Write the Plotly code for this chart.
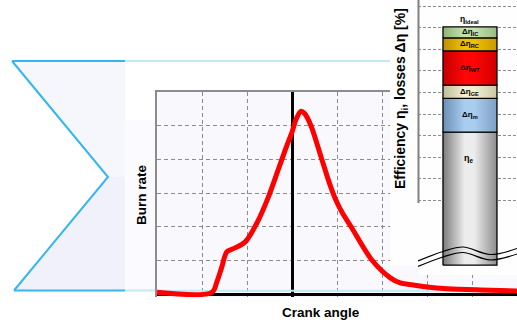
import plotly.graph_objects as go

# ---------------- data ----------------
# Burn-rate curve (crank angle in deg, burn rate in arbitrary units)
crank_angle = [-60, -35.6, -33.4, -31.2, -29.0, -26.3, -20.9, -15.6, -10.7, -6.2, -3.0,
               0, 2.0, 4.0, 5.6, 8.3, 13.2, 16.0, 18.1, 20.0, 22.3, 26.6, 35.5, 43.7, 48.1, 53.9, 60.1, 69, 83.7, 100]
burn_rate = [0.05, 0.05, 0.36, 0.80, 1.25, 1.34, 1.54, 2.11, 2.85, 3.68, 4.28,
             4.81, 5.22, 5.43, 5.36, 5.02, 4.01, 3.42, 3.02, 2.72, 2.42, 1.96, 1.01, 0.48, 0.33, 0.27, 0.21, 0.16, 0.12, 0.09]

# Efficiency loss chain (bottom to top), in %
segment_labels = ["η<sub>e</sub>", "Δη<sub>m</sub>", "Δη<sub>GE</sub>",
                  "Δη<sub>WT</sub>", "Δη<sub>RC</sub>", "Δη<sub>IC</sub>"]
segment_values = [30.8, 7.8, 3.1, 7.9, 3.0, 2.55]
ideal_label = "η<sub>Ideal</sub>"
eff_grid = [15, 20, 25, 30, 35, 40, 45, 50, 55, 60]

# axis-break wave (inset coordinates)
break_x = [-0.525, -0.273, -0.07, 0.203, 0.475]
break_upper = [0.97, 3.17, 4.21, 2.48, 3.87]
break_lower = [-0.30, 1.90, 2.94, 1.21, 2.60]

# ---------------- style ----------------
W, H = 517, 322
FONT = "Liberation Sans, Arial, sans-serif"
def px(x):
    return x / W
def py(y):
    return 1 - y / H

segment_colors = [
    ("#7c7c7c", "#ececec", "#8c8c8c"),
    ("#6b8fb5", "#a9cdef", "#7d9fc4"),
    ("#bdbb98", "#f2f0d2", "#c9c7a4"),
    ("#c40000", "#ff0505", "#d00000"),
    ("#bf9000", "#f0c000", "#c89a00"),
    ("#90b478", "#c5e2ae", "#98bb80"),
]
half_w = 0.2727
GRID = "#8c8c8c"
BLUE = "#35b6ee"
LIGHTBLUE = "#c2e9fa"

fig = go.Figure()

# light blue baseline inside main plot
fig.add_trace(go.Scatter(x=[crank_angle[0], crank_angle[-1]], y=[0.1, 0.1], mode="lines",
                         line=dict(color=LIGHTBLUE, width=2), hoverinfo="skip",
                         showlegend=False, xaxis="x", yaxis="y"))
# burn-rate curve
fig.add_trace(go.Scatter(x=crank_angle, y=burn_rate, mode="lines",
                         line=dict(color="#ff0000", width=5, shape="spline", smoothing=0.9),
                         hoverinfo="skip", showlegend=False, xaxis="x", yaxis="y"))
# blank panel (white cover) for inset title area
fig.add_trace(go.Scatter(x=[0.5], y=[0.5], mode="markers", marker=dict(opacity=0),
                         hoverinfo="skip", xaxis="x2", yaxis="y2", showlegend=False))

annotations = []
bottom = 0.0
for i, (lab, val, cols) in enumerate(zip(segment_labels, segment_values, segment_colors)):
    top = bottom + val
    fig.add_trace(go.Scatter(
        x=[-half_w, half_w, half_w, -half_w, -half_w],
        y=[bottom, bottom, top, top, bottom],
        mode="lines", fill="toself",
        fillgradient=dict(type="horizontal",
                          colorscale=[[0, cols[0]], [0.4, cols[1]], [0.58, cols[1]], [1, cols[2]]]),
        line=dict(color="black", width=1.3), hoverinfo="skip", showlegend=False,
        xaxis="x3", yaxis="y3"))
    ly = top - 0.2 * val if i == 0 else (bottom + top) / 2
    annotations.append(dict(x=-0.01 if i == 0 else 0, y=ly, xref="x3", yref="y3",
                            xanchor="center", yanchor="middle",
                            text="<b>" + lab + "</b>", showarrow=False,
                            font=dict(family=FONT, size=9 if i == 0 else 8, color="black")))
    bottom = top
annotations.append(dict(x=0, y=bottom + 1.8, xref="x3", yref="y3", text="<b>" + ideal_label + "</b>",
                        xanchor="center", yanchor="middle",
                        showarrow=False, font=dict(family=FONT, size=8.5, color="black")))

for yy in (break_upper, break_lower):
    fig.add_trace(go.Scatter(x=break_x, y=yy, mode="lines",
                             line=dict(color="black", width=1.2, shape="spline"),
                             hoverinfo="skip", showlegend=False, xaxis="x3", yaxis="y3"))

# axis titles
annotations += [
    dict(x=px(141), y=py(195), xref="paper", yref="paper", text="<b>Burn rate</b>",
         xanchor="center", yanchor="middle",
         textangle=-90, showarrow=False, font=dict(family=FONT, size=13.5, color="black")),
    dict(x=px(321), y=py(312), xref="paper", yref="paper", text="<b>Crank angle</b>",
         xanchor="center", yanchor="middle",
         showarrow=False, font=dict(family=FONT, size=13.5, color="black")),
    dict(x=px(401), y=py(99), xref="paper", yref="paper",
         text="<b>Efficiency η<sub>i</sub>, losses Δη [%]</b>",
         xanchor="center", yanchor="middle",
         textangle=-90, showarrow=False, font=dict(family=FONT, size=14, color="black")),
]

shapes = [
    # callout fill (light at top, slightly deeper at bottom)
    dict(type="path", xref="paper", yref="paper", layer="below",
         path=f"M {px(12)},{py(61)} L {px(125)},{py(61)} L {px(125)},{py(290)} L {px(14)},{py(290)} L {px(108)},{py(177)} Z",
         fillcolor="#f6f7fd", line=dict(width=0)),
    dict(type="path", xref="paper", yref="paper", layer="below",
         path=f"M {px(60)},{py(177)} L {px(125)},{py(177)} L {px(125)},{py(290)} L {px(14)},{py(290)} L {px(108)},{py(177)} Z",
         fillcolor="#f0f1fb", line=dict(width=0)),
    dict(type="rect", xref="paper", yref="paper", layer="below",
         x0=px(125), x1=px(157), y0=py(290), y1=py(120), fillcolor="#fafaff", line=dict(width=0)),
    # callout lines
    dict(type="line", xref="paper", yref="paper", layer="below",
         x0=px(125), x1=px(395), y0=py(61), y1=py(61), line=dict(color=LIGHTBLUE, width=2)),
    dict(type="line", xref="paper", yref="paper", layer="below",
         x0=px(125), x1=px(157), y0=py(290.5), y1=py(290.5), line=dict(color=LIGHTBLUE, width=2)),
    dict(type="line", xref="paper", yref="paper", layer="below",
         x0=px(12), x1=px(125), y0=py(61), y1=py(61), line=dict(color=BLUE, width=2)),
    dict(type="line", xref="paper", yref="paper", layer="below",
         x0=px(14), x1=px(125), y0=py(290.5), y1=py(290.5), line=dict(color=BLUE, width=2)),
    dict(type="path", xref="paper", yref="paper", layer="below",
         path=f"M {px(12)},{py(61)} L {px(108)},{py(177)} L {px(14)},{py(290.5)}",
         line=dict(color=BLUE, width=2)),
    # main plot background
    dict(type="rect", xref="x", yref="y", layer="below", x0=-60, x1=100, y0=-0.1, y1=6,
         fillcolor="#f9f9fd", line=dict(width=0)),
    # inset white panel (covers the main chart)
    dict(type="rect", xref="x2 domain", yref="y2 domain", layer="below", x0=0, x1=1, y0=0, y1=1,
         fillcolor="#ffffff", line=dict(width=0)),
    # inset gray lower region
    dict(type="rect", xref="x3 domain", yref="y3", layer="below", x0=0, x1=1, y0=-2.27, y1=14.4,
         fillcolor="#e7e7e7", line=dict(width=0)),
    # inset y axis line
    dict(type="line", xref="x3 domain", yref="y3", layer="above", x0=0.005, x1=0.005, y0=14.4, y1=61.39,
         line=dict(color="#7f7f7f", width=2)),
]

fig.update_layout(
    width=W, height=H, margin=dict(l=0, r=0, t=0, b=0),
    paper_bgcolor="#ffffff", plot_bgcolor="#fefefe", showlegend=False,
    xaxis=dict(domain=[px(157), 1], range=[-60, 100], anchor="y", side="top",
               showline=True, linecolor=GRID, linewidth=1.5,
               showgrid=True, gridcolor=GRID, gridwidth=1, griddash="4px,3px",
               tick0=0, dtick=20, zeroline=True, zerolinecolor="black", zerolinewidth=2.5,
               showticklabels=False, ticks=""),
    yaxis=dict(domain=[py(297.4), py(92)], range=[-0.1, 6], anchor="x",
               showline=True, linecolor=GRID, linewidth=1.5,
               showgrid=True, gridcolor=GRID, gridwidth=1, griddash="4px,3px",
               tick0=0, dtick=1, zeroline=True, zerolinecolor="black", zerolinewidth=2.5,
               showticklabels=False, ticks=""),
    xaxis2=dict(domain=[px(390), 1], range=[0, 1], anchor="y2", visible=False),
    yaxis2=dict(domain=[py(266), 1], range=[0, 1], anchor="x2", visible=False),
    xaxis3=dict(domain=[px(418), 1], range=[-0.525, 0.475], anchor="y3", visible=False),
    yaxis3=dict(domain=[py(275), 1], range=[-2.27, 61.39], anchor="x3",
                tickvals=eff_grid, showgrid=True, gridcolor=GRID, gridwidth=1, griddash="3px,2px",
                zeroline=False, showline=False, showticklabels=False, ticks=""),
    shapes=shapes, annotations=annotations,
)

fig.write_html("out.html", config={"displayModeBar": False},
               post_script="document.body.style.margin='0';")
